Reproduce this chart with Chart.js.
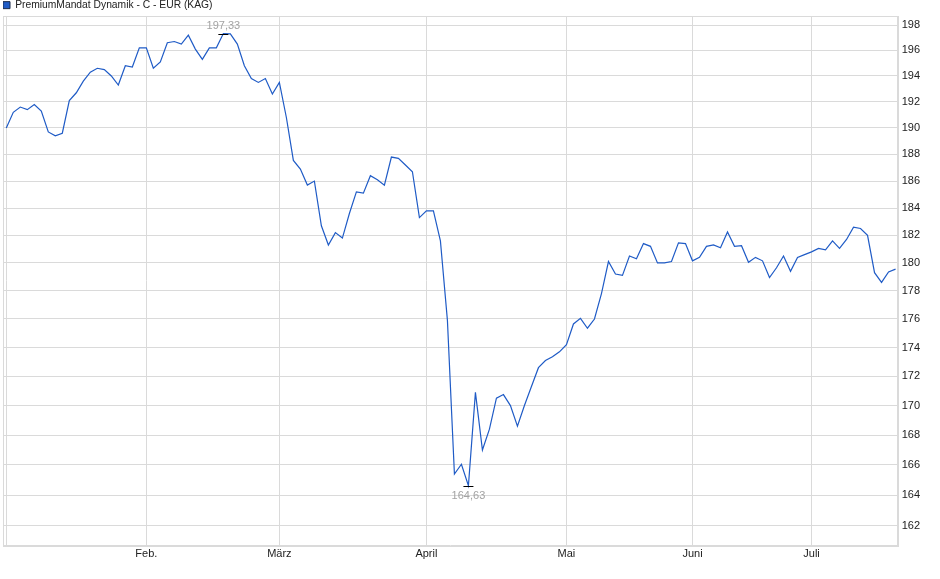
<!DOCTYPE html>
<html>
<head>
<meta charset="utf-8">
<script src="https://cdn.jsdelivr.net/npm/chart.js@4.4.1/dist/chart.umd.min.js"></script>
<style>
  html, body { margin: 0; padding: 0; background: #fff; }
  canvas { display: block; }
</style>
</head>
<body>
<canvas id="fundChart" width="940" height="579"></canvas>
<script>
// Fondspreis (EUR), ein Wert pro Handelstag, Januar bis Juli
const prices = [
  190.0, 191.2, 191.6, 191.4, 191.8, 191.3, 189.7, 189.4, 189.6, 192.1,
  192.7, 193.6, 194.3, 194.6, 194.5, 194.0, 193.3, 194.8, 194.7, 196.2,
  196.2, 194.6, 195.1, 196.6, 196.7, 196.5, 197.2, 196.1, 195.3, 196.2,
  196.2, 197.33, 197.3, 196.5, 194.8, 193.8, 193.5, 193.8, 192.6, 193.5,
  190.8, 187.55, 186.9, 185.7, 186.0, 182.7, 181.3, 182.2, 181.8, 183.6,
  185.2, 185.1, 186.4, 186.1, 185.7, 187.8, 187.7, 187.2, 186.7, 183.3,
  183.8, 183.8, 181.6, 175.9, 165.4, 166.05, 164.63, 170.9, 167.0, 168.4,
  170.5, 170.75, 170.0, 168.6, 170.0, 171.3, 172.6, 173.1, 173.35, 173.7,
  174.2, 175.65, 176.05, 175.35, 176.0, 177.8, 180.1, 179.2, 179.1, 180.5,
  180.3, 181.4, 181.2, 180.0, 180.0, 180.1, 181.45, 181.4, 180.15, 180.4,
  181.2, 181.3, 181.1, 182.25, 181.2, 181.25, 180.05, 180.4, 180.15, 178.95,
  179.65, 180.5, 179.4, 180.4, 180.6, 180.8, 181.05, 180.95, 181.6, 181.05,
  181.7, 182.6, 182.5, 182.0, 179.3, 178.6, 179.35, 179.55
];

// index of the first trading day of each month
const monthStarts = [0, 20, 39, 60, 80, 98, 115];
const monthLabels = ['', 'Feb.', 'März', 'April', 'Mai', 'Juni', 'Juli'];

const yTicks = [162, 164, 166, 168, 170, 172, 174, 176, 178, 180,
                182, 184, 186, 188, 190, 192, 194, 196, 198];

const seriesName = 'PremiumMandat Dynamik - C - EUR (KAG)';

const lineBlue = '#1f5bc6';
const gridGrey = '#dadada';
const fontFamily = "'Liberation Sans', Arial, sans-serif";

const fmt = v => v.toFixed(2).replace('.', ',');

// frame around the plot + min/max markers
const extrasPlugin = {
  id: 'extras',
  beforeDraw(chart) {
    const a = chart.chartArea;
    const ctx = chart.ctx;
    ctx.save();
    ctx.strokeStyle = gridGrey;
    ctx.lineWidth = 1;
    ctx.strokeRect(Math.round(a.left) + 0.5, Math.round(a.top) + 0.5,
                   Math.round(a.right - a.left), Math.round(a.bottom - a.top));
    ctx.restore();
  },
  afterDatasetsDraw(chart) {
    const ctx = chart.ctx;
    const xs = chart.scales.x;
    const ys = chart.scales.y;
    const hi = prices.indexOf(Math.max(...prices));
    const lo = prices.indexOf(Math.min(...prices));
    ctx.save();
    ctx.font = '11px ' + fontFamily;
    ctx.textAlign = 'center';
    ctx.fillStyle = '#a3a3a3';
    ctx.strokeStyle = '#000';
    ctx.lineWidth = 1;

    let px = xs.getPixelForValue(hi);
    let py = Math.round(ys.getPixelForValue(prices[hi])) + 0.5;
    ctx.beginPath(); ctx.moveTo(px - 5, py); ctx.lineTo(px + 5, py); ctx.stroke();
    ctx.textBaseline = 'bottom';
    ctx.fillText(fmt(prices[hi]), px, py - 3);

    px = xs.getPixelForValue(lo);
    py = Math.round(ys.getPixelForValue(prices[lo])) + 0.5;
    ctx.beginPath(); ctx.moveTo(px - 5, py); ctx.lineTo(px + 5, py); ctx.stroke();
    ctx.textBaseline = 'top';
    ctx.fillText(fmt(prices[lo]), px, py + 4);
    ctx.restore();
  }
};

const ctx = document.getElementById('fundChart');

const fundChart = new Chart(ctx, {
  type: 'line',
  data: {
    datasets: [{
      label: seriesName,
      data: prices.map((v, i) => ({ x: i, y: v })),
      borderColor: lineBlue,
      backgroundColor: lineBlue,
      borderWidth: 1.2,
      pointRadius: 0,
      tension: 0,
      fill: false
    }]
  },
  options: {
    responsive: false,
    animation: false,
    devicePixelRatio: 1,
    layout: { padding: { left: 3, right: 16, top: 0, bottom: 16 } },
    plugins: {
      tooltip: { enabled: false },
      legend: {
        position: 'top',
        align: 'start',
        maxHeight: 16,
        labels: {
          boxWidth: 7,
          boxHeight: 7,
          padding: 0,
          color: '#222',
          font: { size: 10.3, family: fontFamily },
          generateLabels(chart) {
            return Chart.defaults.plugins.legend.labels.generateLabels(chart).map(l => {
              l.fillStyle = lineBlue;
              l.strokeStyle = '#1b2a4a';
              l.lineWidth = 1;
              return l;
            });
          }
        }
      }
    },
    scales: {
      x: {
        type: 'linear',
        bounds: 'data',
        min: -0.47,
        max: 127.3,
        afterBuildTicks(scale) {
          scale.ticks = monthStarts.map(v => ({ value: v }));
        },
        grid: { color: gridGrey, drawTicks: false },
        border: { display: true, color: gridGrey },
        ticks: {
          padding: 2,
          autoSkip: false,
          maxRotation: 0,
          color: '#222',
          font: { size: 11, family: fontFamily },
          callback: v => monthLabels[monthStarts.indexOf(v)]
        }
      },
      y: {
        type: 'logarithmic',
        position: 'right',
        bounds: 'data',
        min: 160.71,
        max: 198.72,
        afterBuildTicks(scale) {
          scale.ticks = yTicks.map(v => ({ value: v }));
        },
        grid: { color: gridGrey, drawTicks: false },
        border: { display: true, color: gridGrey },
        ticks: {
          padding: 4,
          color: '#222',
          font: { size: 11, family: fontFamily },
          callback: v => String(v)
        }
      }
    }
  },
  plugins: [extrasPlugin]
});
</script>
</body>
</html>
